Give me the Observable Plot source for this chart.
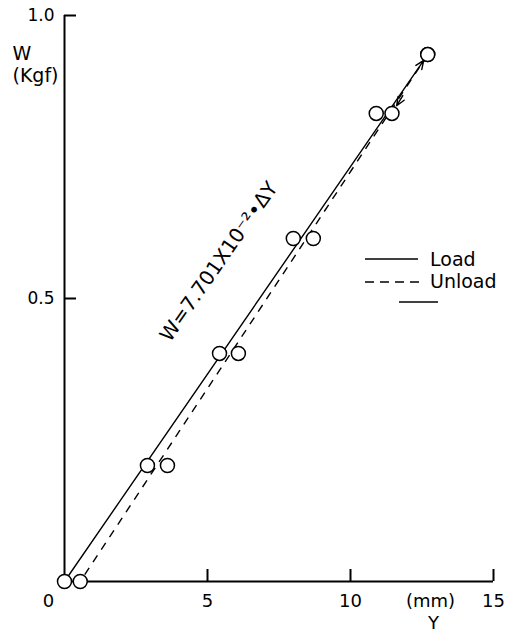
<!DOCTYPE html>
<html><head><meta charset="utf-8">
<script src="https://cdn.jsdelivr.net/npm/d3@7"></script>
<script src="https://cdn.jsdelivr.net/npm/@observablehq/plot@0.6"></script>
<style>
body{margin:0;background:#fff;font-family:"DejaVu Sans",sans-serif;}
#wrap{position:relative;width:515px;height:636px;overflow:hidden;}
#legend{position:absolute;left:360px;top:240px;}
</style></head><body>
<div id="wrap"></div>
<script>
// Data
const loadX   = [0, 2.9, 5.42, 8.0, 10.9, 12.7];
const loadW   = [0, 0.205, 0.403, 0.606, 0.827, 0.931];
const unloadX = [0.55, 3.6, 6.08, 8.7, 11.45, 12.7];
const unloadW = [0, 0.205, 0.403, 0.606, 0.827, 0.931];
const xTicks = [5, 10, 15];
const xTickLabels = [0, 5, 10, 15];
const yTicks = [0.5, 1.0];
const seriesNames = ["Load", "Unload"];
const equation = "W=7.701X10⁻²•ΔY";
const equationAt = {x: 5.4, w: 0.565};

const load = loadX.map((x, i) => ({x, w: loadW[i]}));
const unload = unloadX.map((x, i) => ({x, w: unloadW[i]}));
const allPts = load.concat(unload);
const L0 = load[0], L1 = load[load.length - 1];
const U0 = unload[0], U1 = unload[unload.length - 1], U4 = unload[unload.length - 2];

const W = 515, H = 636, mL = 64, mR = 22, mT = 15, mB = 55;
const xDom = [0, 15], yDom = [0, 1];
const frameW = W - mL - mR, frameH = H - mT - mB, tickLen = 12;
// tick length expressed in data units
const xTickLenData = tickLen / frameH * (yDom[1] - yDom[0]);
const yTickLenData = tickLen / frameW * (xDom[1] - xDom[0]);

const font = "DejaVu Sans";
const chart = Plot.plot({
  width: W, height: H,
  marginLeft: mL, marginRight: mR, marginTop: mT, marginBottom: mB,
  x: {domain: xDom, axis: null},
  y: {domain: yDom, axis: null},
  style: {fontFamily: font, background: "white", overflow: "visible"},
  marks: [
    Plot.ruleY([0], {x1: 0, x2: 15, strokeWidth: 2}),
    Plot.ruleX([0], {y1: 0, y2: 1, strokeWidth: 2}),
    Plot.ruleX(xTicks, {x: d => d, y1: 0, y2: xTickLenData, strokeWidth: 2, stroke: "black"}),
    Plot.ruleY(yTicks, {y: d => d, x1: 0, x2: yTickLenData, strokeWidth: 2, stroke: "black"}),
    Plot.text(xTickLabels.filter(d => d !== 0), {x: d => d, frameAnchor: "bottom", dy: 25, text: d => String(d), fontSize: 18}),
    Plot.text(xTickLabels.filter(d => d === 0), {x: d => d, frameAnchor: "bottom", dx: -16, dy: 25, text: d => String(d), fontSize: 18}),
    Plot.text(yTicks, {y: d => d, frameAnchor: "left", dx: -37, textAnchor: "start", text: d => d3.format(".1f")(d), fontSize: 17}),
    Plot.text(["(mm)"], {frameAnchor: "bottom-right", textAnchor: "middle", dx: -63, dy: 25, text: d => d, fontSize: 18}),
    Plot.text(["Y"], {frameAnchor: "bottom-right", textAnchor: "middle", dx: -60, dy: 47, text: d => d, fontSize: 18}),
    Plot.text(["W\n(Kgf)"], {frameAnchor: "top-left", dx: -52, dy: 29, textAnchor: "start", lineAnchor: "top", lineHeight: 1.15, text: d => d, fontSize: 19}),
    // Load line with arrow
    Plot.arrow([{a: L0, b: L1}], {x1: d => d.a.x, y1: d => d.a.w, x2: d => d.b.x, y2: d => d.b.w, insetEnd: 7, headLength: 10, headAngle: 45, strokeWidth: 1.4, stroke: "black"}),
    // Unload dashed line
    Plot.link([{a: U1, b: U0}], {x1: d => d.a.x, y1: d => d.a.w, x2: d => d.b.x, y2: d => d.b.w, strokeDasharray: "8,7", strokeWidth: 1.4, stroke: "black"}),
    Plot.arrow([{a: U1, b: U4}], {x1: d => d.a.x, y1: d => d.a.w, x2: d => d.b.x, y2: d => d.b.w, insetStart: 48, insetEnd: 9, headLength: 10, headAngle: 45, strokeWidth: 1.4, stroke: "black"}),
    Plot.dot(allPts, {x: "x", y: "w", r: 7, stroke: "black", fill: "white", strokeWidth: 1.5}),
    Plot.text([equation], {x: equationAt.x, y: equationAt.w, text: d => d, rotate: -55, fontSize: 20, fill: "black"})
  ]
});
const wrap = document.getElementById("wrap");
wrap.appendChild(chart);

// Legend
const lg = document.createElement("div");
lg.id = "legend";
lg.innerHTML = `<svg width="155" height="70" style="font-family:'DejaVu Sans';">
<line x1="5" y1="19" x2="58" y2="19" stroke="black" stroke-width="1.4"/>
<line x1="5" y1="42" x2="60" y2="42" stroke="black" stroke-width="1.4" stroke-dasharray="9,6"/>
<text x="70" y="26" font-size="19">${seriesNames[0]}</text>
<text x="70" y="48" font-size="19">${seriesNames[1]}</text>
<line x1="39" y1="62" x2="78" y2="62" stroke="black" stroke-width="1.4"/>
</svg>`;
wrap.appendChild(lg);
</script>
</body></html>
